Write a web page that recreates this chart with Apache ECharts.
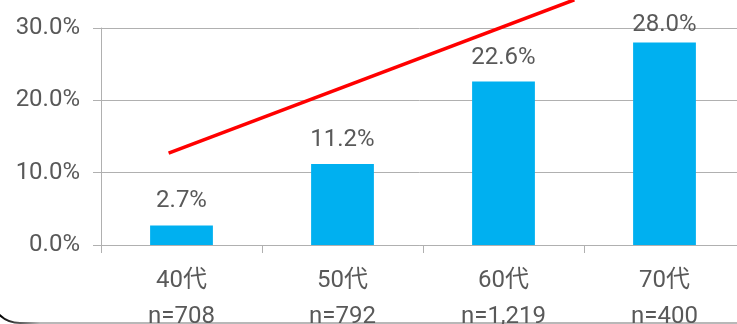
<!DOCTYPE html>
<html>
<head>
<meta charset="utf-8">
<script src="https://cdn.jsdelivr.net/npm/echarts@6/dist/echarts.min.js"></script>
<style>
  html, body { margin: 0; padding: 0; background: #fff; }
  #chart { width: 737px; height: 324px; }
</style>
</head>
<body>
<div id="chart"></div>
<script>
// Age groups and sample sizes
const ageGroups = ['40代', '50代', '60代', '70代'];
const sampleSizes = ['n=708', 'n=792', 'n=1,219', 'n=400'];
// Share per age group (%)
const shareValues = [2.7, 11.2, 22.6, 28.0];
// Y-axis ticks (%)
const yTicks = [0, 10, 20, 30];
// Rising trend arrow, in category-index / percent units
const trendX = [-0.08, 2.44];
const trendY = [12.7, 33.9];

const textColor = '#595959';
const gridColor = '#b0b0b0';
const fontFamily = 'Roboto, "Noto Sans CJK JP", sans-serif';
const yMax = yTicks[yTicks.length - 1];

const chart = echarts.init(document.getElementById('chart'), null, { renderer: 'canvas' });

// Labels of bars close to the top of the plot sit a little lower so they stay inside it
const barData = shareValues.map(v =>
  v > yMax - 3 ? { value: v, label: { distance: 5 } } : v
);

chart.setOption({
  animation: false,
  backgroundColor: '#ffffff',
  grid: {
    left: 101, top: 28, width: 644, height: 217,
    containLabel: false,
    outerBoundsMode: 'none'
  },
  xAxis: [
    {
      type: 'category',
      data: ageGroups,
      boundaryGap: true,
      axisLine: { show: true, lineStyle: { color: gridColor, width: 1 } },
      axisTick: { show: true, length: 8, lineStyle: { color: gridColor } },
      axisLabel: {
        color: textColor,
        fontFamily: fontFamily,
        fontSize: 24,
        lineHeight: 36,
        margin: 18,
        formatter: (v, i) => v + '\n' + sampleSizes[i]
      }
    },
    {
      type: 'value',
      min: -0.5,
      max: ageGroups.length - 0.5,
      show: false
    }
  ],
  yAxis: {
    type: 'value',
    min: yTicks[0],
    max: yMax,
    interval: yTicks[1] - yTicks[0],
    axisLine: { show: true, onZero: false, lineStyle: { color: gridColor, width: 1 } },
    axisTick: { show: true, length: 8, lineStyle: { color: gridColor } },
    splitLine: { show: true, lineStyle: { color: gridColor, width: 1 } },
    axisLabel: {
      color: textColor,
      fontFamily: fontFamily,
      fontSize: 24,
      margin: 21,
      formatter: v => v.toFixed(1) + '%'
    }
  },
  series: [
    {
      type: 'bar',
      data: barData,
      barWidth: '39%',
      itemStyle: { color: '#00b0f0' },
      label: {
        show: true,
        position: 'top',
        distance: 12,
        color: textColor,
        fontFamily: fontFamily,
        fontSize: 24,
        formatter: p => p.value.toFixed(1) + '%'
      }
    },
    {
      type: 'line',
      xAxisIndex: 1,
      data: trendX.map((x, i) => [x, trendY[i]]),
      clip: false,
      symbol: 'none',
      lineStyle: { color: '#ff0000', width: 3.5 },
      z: 5
    }
  ],
  graphic: [
    {
      // frame edge running along the bottom, with a rounded lower-left corner
      type: 'rect',
      silent: true,
      shape: { x: -10, y: -100, width: 900, height: 423, r: 30 },
      style: {
        fill: 'none',
        lineWidth: 2,
        stroke: {
          type: 'linear', x: 0, y: 0, x2: 40, y2: 0, global: true,
          colorStops: [
            { offset: 0, color: '#000000' },
            { offset: 1, color: '#b8b8b8' }
          ]
        }
      }
    }
  ]
});
</script>
</body>
</html>
